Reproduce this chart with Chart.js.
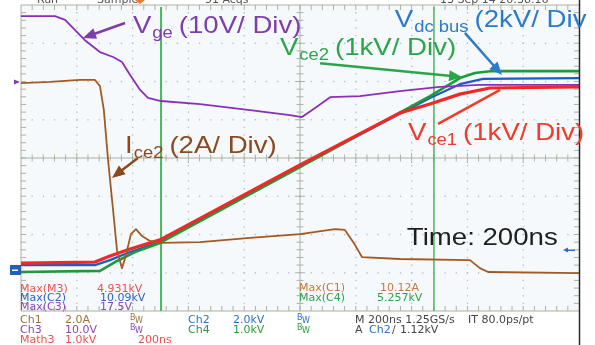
<!DOCTYPE html>
<html>
<head>
<meta charset="utf-8">
<script src="https://cdn.jsdelivr.net/npm/chart.js@4.4.1/dist/chart.umd.min.js"></script>
<style>
  html, body { margin: 0; padding: 0; background: #ffffff; }
  #wrap { width: 595px; height: 345px; position: relative; }
</style>
</head>
<body>
<div id="wrap"><canvas id="scope"></canvas></div>
<script>
// Time axis in ns (200 ns/div, 10 divisions), values in screen divisions (0..8)
const vgeTime  = [0, 122, 158, 229, 283, 330, 362, 391, 427, 455, 502, 642, 821, 964, 1007, 1054, 1108, 1215, 1358, 1502, 1645, 2000];
const vgeDiv   = [7.71, 7.71, 7.61, 7.08, 6.77, 6.64, 6.51, 6.17, 5.78, 5.57, 5.49, 5.41, 5.25, 5.12, 5.07, 5.31, 5.59, 5.62, 5.75, 5.86, 5.91, 5.91];

const iceTime  = [0, 104, 211, 265, 283, 297, 312, 330, 344, 362, 376, 394, 412, 434, 462, 498, 642, 821, 1000, 1125, 1161, 1197, 1222, 1358, 1609, 1645, 1674, 2000];
const iceDiv   = [5.96, 5.99, 6.04, 6.04, 5.88, 5.25, 3.95, 2.64, 1.59, 1.12, 1.46, 2.01, 2.14, 1.96, 1.83, 1.78, 1.80, 1.91, 2.01, 2.14, 2.12, 1.73, 1.41, 1.36, 1.33, 1.12, 1.02, 0.99];

const busTime  = [0, 265, 319, 391, 498, 1000, 1466, 1573, 1656, 2000];
const busDiv   = [1.20, 1.20, 1.33, 1.54, 1.80, 3.79, 5.57, 5.93, 6.07, 6.09];

const vce1Time = [0, 265, 319, 391, 498, 1000, 1358, 1466, 1573, 1681, 2000];
const vce1Div  = [1.25, 1.28, 1.44, 1.62, 1.86, 3.82, 5.18, 5.41, 5.67, 5.83, 5.86];

const vce2Time = [0, 283, 337, 409, 498, 1000, 1466, 1573, 1627, 1681, 2000];
const vce2Div  = [1.02, 1.05, 1.28, 1.54, 1.78, 3.76, 5.62, 6.09, 6.22, 6.27, 6.27];

const cursorTimes = [502, 1480];

const xDivs = 10, yDivs = 8, nsPerDiv = 200;

function pts(t, v) { return t.map((x, i) => ({ x: x, y: v[i] })); }

// trace labels: [main, subscript, rest, time ns, baseline div, colour]
const labels = [
    ['V', 'ge', '(10V/ Div)', 401, 7.27, '#7d3eab'],
    ['V', 'dc bus', '(2kV/ Div', 1340, 7.42, '#2b7bcb'],
    ['V', 'ce2', '(1kV/ Div)', 928, 6.69, '#2aa54a'],
    ['V', 'ce1', '(1kV/ Div)', 1387, 4.47, '#f03a2a'],
    ['I', 'ce2', '(2A/ Div)', 373, 4.13, '#8a4a20']
];

// arrows: [fromT, fromDiv, toT, toDiv, colour, head]
const arrows = [
    [373, 7.53, 222, 7.14, '#7d3eab', true],
    [1591, 7.27, 1724, 6.17, '#2b7bcb', true],
    [1072, 6.48, 1581, 6.12, '#2aa54a', true],
    [1495, 4.89, 1717, 5.78, '#f03a2a', false],
    [419, 4.00, 326, 3.48, '#8a4a20', true]
];

const SX = 1.15; // labels look horizontally stretched

function stretchText(ctx, str, x, y, sx) {
    ctx.save();
    ctx.translate(x, y);
    ctx.scale(sx, 1);
    ctx.fillText(str, 0, 0);
    ctx.restore();
    return ctx.measureText(str).width * sx;
}

function arrow(ctx, x1, y1, x2, y2, color, head) {
    const a = Math.atan2(y2 - y1, x2 - x1);
    ctx.save();
    ctx.strokeStyle = color;
    ctx.fillStyle = color;
    ctx.lineWidth = 2.5;
    ctx.beginPath();
    ctx.moveTo(x1, y1);
    ctx.lineTo(head ? x2 - 8 * Math.cos(a) : x2, head ? y2 - 8 * Math.sin(a) : y2);
    ctx.stroke();
    if (head) {
        ctx.beginPath();
        ctx.moveTo(x2, y2);
        ctx.lineTo(x2 - 13 * Math.cos(a) + 5.5 * Math.sin(a), y2 - 13 * Math.sin(a) - 5.5 * Math.cos(a));
        ctx.lineTo(x2 - 13 * Math.cos(a) - 5.5 * Math.sin(a), y2 - 13 * Math.sin(a) + 5.5 * Math.cos(a));
        ctx.closePath();
        ctx.fill();
    }
    ctx.restore();
}

const scopePlugin = {
    id: 'scope',
    beforeDatasetsDraw(chart) {
        const ctx = chart.ctx;
        const a = chart.chartArea;
        const xs = chart.scales.x, ys = chart.scales.y;
        const dx = (a.right - a.left) / xDivs, dy = (a.bottom - a.top) / yDivs;
        ctx.save();
        ctx.fillStyle = '#f6f9fc';
        ctx.fillRect(a.left, a.top, a.right - a.left, a.bottom - a.top);

        // dotted graticule
        ctx.fillStyle = '#a9bccc';
        for (let i = 1; i < xDivs; i++) {
            if (i === xDivs / 2) continue;
            const x = xs.getPixelForValue(i * nsPerDiv);
            for (let k = 1; k < yDivs * 5; k++) ctx.fillRect(x - 0.6, a.top + k * dy / 5 - 0.6, 1.3, 1.3);
        }
        for (let j = 1; j < yDivs; j++) {
            if (j === yDivs / 2) continue;
            const y = ys.getPixelForValue(j);
            for (let k = 1; k < xDivs * 5; k++) ctx.fillRect(a.left + k * dx / 5 - 0.6, y - 0.6, 1.3, 1.3);
        }

        // centre lines, borders and minor ticks
        ctx.strokeStyle = '#a8b3a0';
        ctx.lineWidth = 1;
        const cx = xs.getPixelForValue(xDivs / 2 * nsPerDiv), cy = ys.getPixelForValue(yDivs / 2);
        ctx.beginPath();
        ctx.moveTo(a.left, cy); ctx.lineTo(a.right, cy);
        ctx.moveTo(cx, a.top); ctx.lineTo(cx, a.bottom);
        ctx.moveTo(a.left, a.top); ctx.lineTo(a.right, a.top);
        ctx.moveTo(a.left, a.bottom); ctx.lineTo(a.right, a.bottom);
        ctx.moveTo(a.left, a.top); ctx.lineTo(a.left, a.bottom);
        for (let k = 1; k < xDivs * 5; k++) {
            const x = a.left + k * dx / 5;
            const len = k % 5 === 0 ? 5 : 3.5;
            ctx.moveTo(x, cy - len); ctx.lineTo(x, cy + len);
            ctx.moveTo(x, a.top); ctx.lineTo(x, a.top + 5);
            ctx.moveTo(x, a.bottom); ctx.lineTo(x, a.bottom - 5);
        }
        for (let k = 1; k < yDivs * 5; k++) {
            const y = a.top + k * dy / 5;
            const len = k % 5 === 0 ? 5 : 3.5;
            ctx.moveTo(cx - len, y); ctx.lineTo(cx + len, y);
            ctx.moveTo(a.left, y); ctx.lineTo(a.left + 5, y);
            ctx.moveTo(a.right, y); ctx.lineTo(a.right - 5, y);
        }
        ctx.stroke();

        // cursors
        ctx.strokeStyle = '#4cb45a';
        cursorTimes.forEach((t, i) => {
            const x = xs.getPixelForValue(t);
            ctx.lineWidth = i === 0 ? 2 : 1.5;
            ctx.beginPath();
            ctx.moveTo(x, a.top + 2); ctx.lineTo(x, a.bottom);
            ctx.stroke();
        });
        ctx.restore();
    },
    afterDatasetsDraw(chart) {
        const ctx = chart.ctx;
        const a = chart.chartArea;
        const xs = chart.scales.x, ys = chart.scales.y;
        ctx.save();

        // right frame edge
        ctx.strokeStyle = '#2a2a2a';
        ctx.lineWidth = 1.5;
        ctx.beginPath();
        ctx.moveTo(a.right + 0.5, 0); ctx.lineTo(a.right + 0.5, chart.height);
        ctx.stroke();

        // trace labels
        ctx.textBaseline = 'alphabetic';
        labels.forEach(l => {
            let x = xs.getPixelForValue(l[3]);
            const y = ys.getPixelForValue(l[4]);
            ctx.fillStyle = l[5];
            ctx.font = '24px "Liberation Sans", Arial, sans-serif';
            x += stretchText(ctx, l[0], x, y, SX) + 1;
            ctx.font = '16px "Liberation Sans", Arial, sans-serif';
            x += stretchText(ctx, l[1], x, y + 5, SX) + 6;
            ctx.font = '24px "Liberation Sans", Arial, sans-serif';
            stretchText(ctx, l[2], x, y, SX);
        });
        ctx.fillStyle = '#1e1e1e';
        ctx.font = '24px "Liberation Sans", Arial, sans-serif';
        stretchText(ctx, 'Time: 200ns', xs.getPixelForValue(1383), ys.getPixelForValue(1.73), SX);

        arrows.forEach(r => arrow(ctx, xs.getPixelForValue(r[0]), ys.getPixelForValue(r[1]),
            xs.getPixelForValue(r[2]), ys.getPixelForValue(r[3]), r[4], r[5]));

        // channel markers
        ctx.fillStyle = '#1f5fbf';
        ctx.fillRect(10, 265, 11, 10);
        ctx.fillStyle = '#ffffff';
        ctx.fillRect(12, 269.5, 6, 1.5);
        ctx.fillStyle = '#7d3eab';
        ctx.beginPath(); ctx.moveTo(20, 82); ctx.lineTo(14, 79.5); ctx.lineTo(14, 84.5); ctx.fill();
        ctx.fillStyle = '#2b6fc8';
        ctx.fillRect(566, 249.5, 9, 1.5);
        ctx.beginPath(); ctx.moveTo(563, 250); ctx.lineTo(568, 247.5); ctx.lineTo(568, 252.5); ctx.fill();
        ctx.fillStyle = '#f07a30';
        ctx.beginPath(); ctx.moveTo(135, 0); ctx.lineTo(145, 0); ctx.lineTo(140, 4); ctx.fill();

        // header (cut off at top)
        ctx.fillStyle = '#555';
        ctx.font = '11px "DejaVu Sans", sans-serif';
        ctx.fillText('Run', 37, 3);
        ctx.fillText('Sample', 97, 3);
        ctx.fillText('51 Acqs', 205, 3);
        ctx.fillText('13 Sep 14 20:38:16', 440, 3);

        // readouts
        const rd = [
            ['Max(M3)', 20, 292, '#f0504a'], ['4.931kV', 97, 292, '#f0504a'],
            ['Max(C2)', 20, 301, '#2b5fc0'], ['10.09kV', 100, 301, '#2b5fc0'],
            ['Max(C3)', 20, 310, '#8a48b0'], ['17.5V', 100, 310, '#8a48b0'],
            ['Max(C1)', 299, 291, '#c07a3a'], ['10.12A', 380, 291, '#c07a3a'],
            ['Max(C4)', 299, 301, '#2aa54a'], ['5.257kV', 377, 301, '#2aa54a'],
            ['Ch1', 20, 323, '#a0703a'], ['2.0A', 65, 323, '#a0703a'],
            ['Ch2', 188, 323, '#2b6fc8'], ['2.0kV', 233, 323, '#2b6fc8'],
            ['M 200ns 1.25GS/s', 355, 323, '#444'], ['IT 80.0ps/pt', 468, 323, '#444'],
            ['Ch3', 20, 333, '#8a48b0'], ['10.0V', 65, 333, '#8a48b0'],
            ['Ch4', 188, 333, '#2a9a3a'], ['1.0kV', 233, 333, '#2a9a3a'],
            ['A', 355, 333, '#444'], ['Ch2', 369, 333, '#2b6fc8'], ['\u2215', 392, 333, '#444'], ['1.12kV', 400, 333, '#444'],
            ['Math3', 20, 343, '#f0504a'], ['1.0kV', 65, 343, '#f0504a'], ['200ns', 138, 343, '#f0504a']
        ];
        ctx.font = '11px "DejaVu Sans", sans-serif';
        rd.forEach(r => { ctx.fillStyle = r[3]; ctx.fillText(r[0], r[1], r[2]); });
        const bw = [[130, 323, '#a0703a'], [297, 323, '#2b6fc8'], [130, 333, '#8a48b0'], [297, 333, '#2a9a3a']];
        bw.forEach(b => {
            ctx.fillStyle = b[2];
            ctx.font = '8px "DejaVu Sans", sans-serif';
            ctx.fillText('B', b[0], b[1] - 3);
            ctx.fillText('W', b[0] + 5, b[1]);
        });
        ctx.restore();
    }
};

const trace = (data, color, width) => ({
    data: data, borderColor: color, borderWidth: width, pointRadius: 0,
    tension: 0, fill: false, borderJoinStyle: 'round', borderCapStyle: 'round'
});

new Chart(document.getElementById('scope'), {
    type: 'line',
    data: {
        datasets: [
            trace(pts(vgeTime, vgeDiv), '#8a2fb8', 1.8),
            trace(pts(iceTime, iceDiv), '#a35a22', 1.8),
            trace(pts(vce1Time, vce1Div), '#f02828', 3.2),
            trace(pts(vce2Time, vce2Div), '#1f9a3a', 2.6),
            trace(pts(busTime, busDiv), '#1c5cc8', 2.2)
        ]
    },
    options: {
        responsive: true,
        maintainAspectRatio: false,
        animation: false,
        layout: { padding: { left: 21, right: 16, top: 5, bottom: 34 } },
        plugins: { legend: { display: false }, tooltip: { enabled: false } },
        scales: {
            x: { type: 'linear', min: 0, max: xDivs * nsPerDiv, display: false },
            y: { type: 'linear', min: 0, max: yDivs, display: false }
        }
    },
    plugins: [scopePlugin]
});
</script>
</body>
</html>
